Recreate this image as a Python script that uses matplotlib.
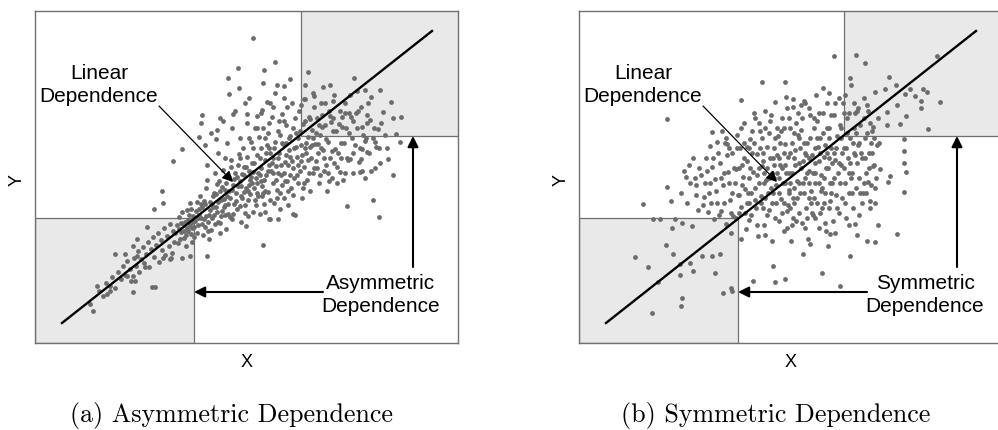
import numpy as np
import matplotlib
matplotlib.use("Agg")
import matplotlib.pyplot as plt
from matplotlib.patches import Rectangle

# point clouds (x from box left, y from box bottom, in px)
asym_pts = [
    # sparse outliers
    (218,305),(240,281),(203,275),(229,273),(273,271),(193,265),(228,260),(255,264),
    (242,258),(249,257),(319,265),(288,256),(295,258),(345,253),(330,253),(270,258),
    (194,249),(204,255),(214,245),(240,250),(249,245),(269,244),(279,247),(232,241),
    (298,242),(167,228),(185,225),(198,229),(212,229),(222,227),(358,225),(332,228),
    (323,232),(310,230),(318,222),(166,220),(182,213),(327,216),(307,216),(164,206),
    (181,204),(365,201),(340,201),(330,202),(327,194),(332,191),(147,194),(138,182),
    (353,184),(315,184),(325,171),(127,152),(128,140),(119,134),(338,143),(312,137),
    (344,126),(258,129),(243,124),(235,124),(228,98),(112,116),(102,104),(98,97),
    (80,89),(90,89),(102,87),(110,76),(92,67),(98,67),(100,62),(62,57),(75,52),
    (72,49),(98,51),(117,56),(120,56),(55,39),(58,32),(172,87),(147,85),(135,84),
    (128,85),(155,87),
    # lower tail
    (64,52),(68,47),(71,60),(75,57),(77,66),(80,55),(83,71),(86,64),(88,77),(90,68),
    (92,82),(95,74),(96,62),(99,85),(101,77),(103,92),(104,71),(106,84),(108,96),
    (109,80),(111,89),(113,101),(114,76),(116,94),(118,106),(119,86),(121,98),
    (123,110),(124,81),(126,103),(127,93),(129,115),(130,88),(132,107),(134,97),
    (135,119),(137,90),(138,112),(139,101),(136,85),
    (140,110),(143,100),(146,120),(149,105),(153,112),(155,118),(158,121),(144,114),
    # core
    (142,118),(145,104),(147,131),(149,112),(151,97),(153,123),(155,140),(156,109),
    (158,127),(159,116),(144,126),(152,133),(157,101),(150,121),(146,111),
    (161,132),(163,118),(165,147),(166,125),(168,108),(170,139),(171,155),(173,121),
    (175,133),(176,113),(178,147),(179,128),(162,141),(167,136),(172,163),(174,104),
    (177,138),(169,124),(164,128),(180,119),
    (181,149),(182,131),(184,162),(185,120),(186,143),(188,173),(189,136),(190,153),
    (191,114),(193,129),(194,166),(195,145),(196,183),(197,124),(198,158),(199,139),
    (183,141),(187,156),(192,147),(200,170),(185,110),(190,128),
    (201,150),(202,134),(203,178),(205,162),(206,121),(207,145),(208,195),(209,168),
    (210,138),(211,155),(212,186),(213,127),(214,172),(215,149),(216,201),(217,160),
    (218,131),(219,180),(220,143),(204,189),(206,157),(211,117),(216,166),(209,176),
    (213,152),
    (221,165),(222,188),(223,147),(224,206),(225,129),(226,175),(227,157),(228,215),
    (229,139),(230,183),(231,168),(232,198),(233,151),(234,124),(235,190),(236,172),
    (237,226),(238,160),(239,140),(240,201),(222,160),(226,195),(230,131),(234,178),
    (238,185),(225,168),(233,210),(228,150),
    (241,177),(242,153),(243,212),(244,190),(245,134),(246,168),(247,229),(248,199),
    (249,145),(250,181),(251,218),(252,162),(253,138),(254,205),(255,186),(256,155),
    (257,240),(258,175),(259,195),(260,128),(243,170),(247,158),(251,200),(255,168),
    (249,222),(245,208),(253,178),(258,148),
    (261,210),(262,186),(263,160),(264,232),(266,198),(267,145),(268,219),(269,176),
    (270,244),(271,190),(272,163),(273,206),(274,226),(275,152),(276,185),(277,213),
    (278,170),(279,236),(280,199),(265,172),(270,222),(275,196),(268,155),(263,205),
    (281,182),(282,225),(284,160),(285,208),(286,240),(288,193),(289,172),(290,218),
    (292,152),(293,201),(294,232),(295,185),(297,165),(298,212),(299,248),(300,194),
    (287,228),(291,178),(296,221),(283,199),
    (302,176),(304,219),(306,200),(308,163),(310,240),(312,185),(314,210),(316,226),
    (318,170),(320,198),(322,252),(324,181),(326,236),(328,208),(330,165),(332,220),
    (334,190),(336,246),(338,205),(340,175),(305,232),(315,248),(325,195),(335,223),
    (343,214),(348,231),(352,195),(356,241),(361,209),(366,226),(345,180),(358,168),
    # dense band along the line
    (148,119),(151,108),(154,128),(157,115),(160,122),(162,110),(164,134),(167,119),
    (169,142),(171,127),(173,112),(175,141),(177,125),(179,150),(181,136),(183,121),
    (185,152),(187,132),(189,144),(191,160),(193,139),(195,126),(197,153),(199,164),
    (201,142),(203,157),(205,137),(207,169),(209,151),(211,176),(213,143),(215,163),
    (217,180),(219,155),(221,138),(223,170),(225,185),(227,147),(229,163),(231,190),
    (233,172),(235,143),(237,180),(239,195),(241,163),(243,185),(245,150),(247,200),
    (249,170),(251,188),(253,152),(255,207),(257,182),(259,165),(261,196),(263,178),
    (265,212),(267,188),(269,160),(271,200),(273,183),(275,224),(277,198),(279,175),
    (281,210),(283,190),(285,168),(287,216),(289,185),(291,204),(293,170),(295,227),
    (297,192),(299,180),(301,212),(303,190),(305,171),(307,226),(309,200),(311,215),
    (313,183),(317,205),(321,230),(326,184),(331,205),(336,172),(341,196),(346,220),
    (152,115),(156,134),(159,106),(163,125),(166,139),(170,116),(174,128),(178,136),
    (182,159),(186,127),(190,138),(194,152),(198,129),(202,166),(206,147),(210,130),
    (214,158),(218,171),(222,150),(226,162),(230,152),(234,195),(238,170),(242,145),
    (246,178),(250,162),(254,193),(258,215),(262,168),(266,182),(270,195),(274,170),
    (278,205),(282,175),(286,195),(290,240),(294,162),(298,225),(302,160),(306,185),
    (310,170),(314,230),(318,190),(322,215),(327,172),(333,240),(339,215),(344,195),
    (350,208),
    (205,205),(212,220),(220,215),(227,233),(235,240),(244,222),(252,236),(260,225),
    (266,238),(278,250),(284,218),
    (170,198),(176,210),(183,190),(188,222),(192,200),(197,215),(200,232),(205,185),
    (210,240),(214,205),(218,195),(222,215),(226,230),(230,205),(234,220),(238,236),
    (190,185),(180,170),(172,178),(196,176),
]

sym_pts = [
    # sparse outliers
    (255,287),(277,288),(286,280),(358,287),(271,265),(310,266),(317,258),(306,254),
    (296,251),(326,249),(331,254),(344,254),(348,251),(336,247),(342,242),(361,241),
    (342,235),(327,227),(321,219),(349,214),(308,218),(294,216),(279,235),(288,238),
    (308,231),(318,238),(325,204),(325,192),(325,180),(327,171),(325,151),(309,161),
    (311,167),(301,174),(294,177),(289,161),(291,142),(318,109),(299,118),(296,101),
    (288,102),(278,108),(271,87),(276,119),(261,57),(243,70),(251,109),(249,97),
    (231,99),(224,89),(206,64),(196,61),(194,77),(174,62),(183,261),(206,261),
    (162,243),(214,244),(88,224),(133,211),(138,201),(131,197),(148,199),(64,139),
    (88,156),(92,142),(107,166),(96,124),(74,124),(81,124),(93,115),(103,120),
    (113,117),(56,86),(69,76),(87,98),(94,89),(101,79),(111,80),(114,72),(101,68),
    (73,30),(103,45),(102,37),(79,61),(144,50),(153,52),(152,55),(136,70),(123,87),
    (133,87),(141,89),
    # core
    (102,150),(105,172),(108,140),(111,160),(114,185),(117,148),(119,133),(110,178),
    (116,165),
    (122,168),(125,146),(127,185),(129,131),(131,160),(133,176),(135,124),(137,152),
    (139,190),(124,138),(128,172),(136,164),(132,140),
    (141,180),(142,132),(144,158),(146,200),(147,119),(149,171),(151,143),(153,190),
    (154,127),(156,160),(158,208),(159,148),(143,212),(148,188),(152,110),(157,174),
    (145,140),
    (161,195),(162,136),(164,166),(165,220),(167,114),(168,182),(169,150),(171,204),
    (172,128),(174,171),(175,230),(176,143),(178,189),(179,107),(180,160),(163,178),
    (166,154),(170,123),(173,212),(177,135),(168,196),(162,104),
    (181,212),(182,147),(183,177),(185,118),(186,232),(187,163),(188,196),(190,133),
    (191,222),(192,155),(193,102),(194,185),(196,241),(197,140),(198,170),(199,207),
    (200,122),(184,190),(189,150),(195,165),(184,135),(192,228),(198,188),(186,108),
    (201,178),(202,144),(203,225),(204,160),(205,112),(206,199),(207,246),(208,132),
    (209,186),(210,153),(211,215),(212,102),(213,170),(214,236),(215,140),(216,193),
    (217,122),(218,162),(219,208),(220,180),(203,130),(207,170),(211,190),(215,155),
    (219,230),(205,215),(213,118),(209,138),
    (221,150),(222,213),(223,120),(224,182),(225,242),(226,165),(227,135),(228,200),
    (229,104),(230,172),(231,228),(232,152),(233,188),(234,128),(235,215),(236,160),
    (237,248),(238,140),(239,196),(240,115),(222,238),(226,190),(230,145),(234,170),
    (238,222),(224,160),(236,180),(228,125),
    (241,205),(242,168),(243,135),(244,230),(245,186),(246,150),(247,112),(248,215),
    (249,175),(250,250),(251,142),(252,195),(253,160),(254,122),(255,228),(256,183),
    (257,148),(258,207),(259,170),(260,130),(244,255),(248,190),(252,228),(256,110),
    (242,152),(250,205),
    (261,218),(262,178),(263,145),(264,240),(265,195),(266,160),(267,125),(268,225),
    (269,185),(270,150),(271,205),(272,258),(273,170),(274,135),(275,215),(276,188),
    (277,155),(278,232),(279,198),(280,165),(266,248),(270,118),(274,200),(262,205),
    (281,218),(283,185),(284,150),(286,205),(287,170),(289,232),(290,190),(292,158),
    (293,212),(295,178),(296,140),(298,198),(299,225),(285,245),(291,135),(297,165),
    # denser middle of the ellipse
    (150,160),(155,175),(160,148),(165,185),(170,165),(175,200),(180,175),(185,160),
    (190,210),(195,178),(200,150),(205,190),(210,170),(215,210),(220,160),(225,200),
    (230,185),(235,145),(240,182),(245,165),(250,215),(255,190),(260,180),(265,230),
    (270,170),(275,240),(280,200),(285,225),(290,175),(295,205),
    (145,170),(152,130),(158,195),(163,158),(168,140),(173,190),(178,118),(183,205),
    (188,175),(193,140),(198,215),(203,175),(208,115),(213,200),(218,145),(223,225),
    (228,170),(233,130),(238,205),(243,155),(248,240),(253,180),(258,135),(263,190),
    (268,210),(273,150),(278,180),(283,140),(288,210),(293,190),
    (130,150),(134,185),(138,140),(142,165),(147,205),(153,150),(157,125),(162,215),
    (166,130),(171,175),(176,155),(181,195),(186,145),(191,185),(196,125),(201,200),
    (206,160),(211,135),(216,178),(221,195),(226,115),(231,205),(236,195),(241,130),
    (246,198),(251,160),(256,240),(261,160),(266,140),(271,180),(276,230),(281,150),
    (286,185),(291,220),(296,155),(300,200),
    (117,158),(120,175),(126,160),(140,128),(150,195),(160,175),(170,140),(180,220),
    (190,165),(200,185),(210,225),(220,130),(230,235),(240,160),(250,135),(260,245),
    (270,230),(280,128),(185,170),(195,195),(205,140),(215,185),(225,150),(235,225),
    (245,140),(255,165),(265,175),(275,190),(285,160),(210,150),(220,205),(230,160),
    (240,230),(250,185),(200,165),
    (160,130),(165,200),(172,150),(178,168),(184,182),(188,128),(193,170),(197,158),
    (202,212),(206,178),(211,160),(214,145),(217,220),(222,175),(227,188),(232,140),
    (236,170),(241,190),(244,210),(247,175),(252,150),(257,195),(262,215),(267,195),
    (272,165),(277,210),(282,190),(287,150),(292,200),(176,225),(186,215),(196,205),
    (208,235),(226,240),(246,120),(236,125),(214,125),(194,150),(182,140),(170,195),
]

# regression line end points, shaded tail boxes
line_x = [27, 397]
line_y = [20, 312]
low_box = (0, 0, 159, 125)
high_box_asym = (266, 207, 200, 200)
high_box_sym = (265, 207, 200, 200)

panels = [
    ("Asymmetric\nDependence", "(a) Asymmetric Dependence", asym_pts, high_box_asym, 35),
    ("Symmetric\nDependence", "(b) Symmetric Dependence", sym_pts, high_box_sym, 579),
]

W, H = 998, 431
fig = plt.figure(figsize=(W / 100, H / 100), dpi=100)
sans = "Liberation Sans"
grey = "#707070"

for label, caption, pts, hb, left in panels:
    ax = fig.add_axes([left / W, (H - 344) / H, 423 / W, 332 / H])
    ax.set_xlim(0, 423)
    ax.set_ylim(0, 332)
    ax.set_xticks([])
    ax.set_yticks([])
    for sp in ax.spines.values():
        sp.set_color(grey)
        sp.set_linewidth(1.0)

    for b in (low_box, hb):
        ax.add_patch(Rectangle(b[:2], b[2], b[3], facecolor="#e9e9e9",
                               edgecolor=grey, lw=0.9, zorder=0))

    pts = np.array(pts)
    ax.scatter(pts[:, 0], pts[:, 1], s=12, color="#6c6c6c", linewidths=0, zorder=1)
    ax.plot(line_x, line_y, color="black", lw=1.7, zorder=2)

    ax.text(64, 259, "Linear\nDependence", ha="center", va="center",
            fontsize=15, family=sans, linespacing=1.3)
    ax.annotate("", xy=(198, 161), xytext=(124, 237),
                arrowprops=dict(arrowstyle="-|>", color="black", lw=0.9,
                                mutation_scale=16, shrinkA=0, shrinkB=0))

    ax.text(346, 49, label, ha="center", va="center", fontsize=15,
            family=sans, linespacing=1.3)
    ax.annotate("", xy=(159, 51), xytext=(288, 51),
                arrowprops=dict(arrowstyle="-|>", color="black", lw=1.5,
                                mutation_scale=16, shrinkA=0, shrinkB=0))
    ax.annotate("", xy=(378, 207), xytext=(378, 76),
                arrowprops=dict(arrowstyle="-|>", color="black", lw=1.5,
                                mutation_scale=16, shrinkA=0, shrinkB=0))

    cx = left + 423 / 2
    fig.text(cx / W, 1 - 363 / H, "X", ha="center", va="center",
             fontsize=13, family=sans)
    fig.text((left - 18) / W, 1 - 180 / H, "Y", ha="center", va="center",
             fontsize=13, family=sans, rotation=90)
    fig.text((cx - 15) / W, 1 - 416 / H, caption, ha="center", va="center",
             fontsize=18.7, family="cmr10")

fig.savefig("out.png", dpi=100)
